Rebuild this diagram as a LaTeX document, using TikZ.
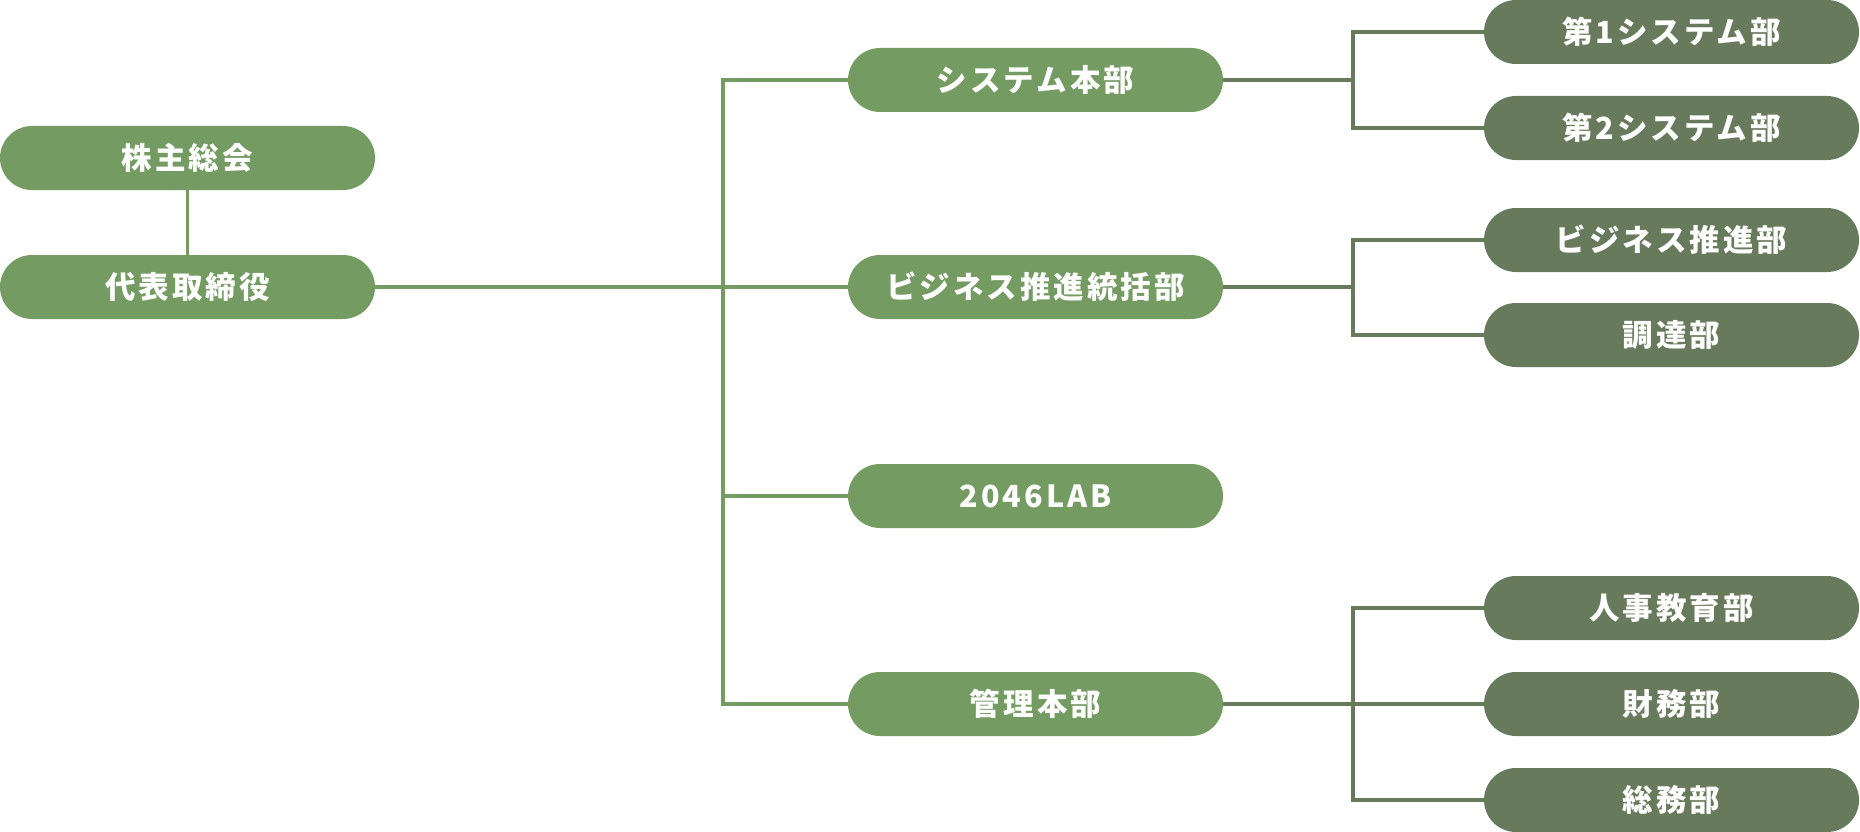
\documentclass[tikz,border=0pt]{standalone}
\usepackage{fontspec}
\setmainfont{Noto Sans CJK JP}[LetterSpace=10]
\definecolor{lightg}{RGB}{115,155,98}
\definecolor{darkg}{RGB}{104,122,92}
\begin{document}
\begin{tikzpicture}[x=1pt,y=-1pt,
  box/.style={rectangle, rounded corners=32pt, minimum width=375pt, minimum height=64pt,
    inner sep=0pt, text=white, font=\fontsize{30.5pt}{34pt}\selectfont\bfseries},
  lbox/.style={box, fill=lightg},
  dbox/.style={box, fill=darkg},
  lline/.style={draw=lightg, line width=3.5pt},
  dline/.style={draw=darkg, line width=3.5pt}]
\useasboundingbox (0,0) rectangle (1860,832);
% level 1
\node[lbox] (kabu) at (187.5,158) {株主総会};
\node[lbox] (ceo) at (187.5,287) {代表取締役};
% level 2
\node[lbox] (sys) at (1035.5,80) {システム本部};
\node[lbox] (biz) at (1035.5,287) {ビジネス推進統括部};
\node[lbox] (lab) at (1035.5,496) {2046LAB};
\node[lbox] (kanri) at (1035.5,704) {管理本部};
% level 3
\node[dbox] (s1) at (1671.5,32) {第1システム部};
\node[dbox] (s2) at (1671.5,128) {第2システム部};
\node[dbox] (b1) at (1671.5,240) {ビジネス推進部};
\node[dbox] (b2) at (1671.5,335) {調達部};
\node[dbox] (k1) at (1671.5,608) {人事教育部};
\node[dbox] (k2) at (1671.5,704) {財務部};
\node[dbox] (k3) at (1671.5,800) {総務部};
% junction columns
\coordinate (t) at (723,0);
\coordinate (j) at (1353,0);
% left connectors
\path[lline] (kabu.south) -- (ceo.north);
\path[lline] (ceo.east) -- (ceo.east -| t);
\path[lline] (sys.west) -- (sys.west -| t) -- (kanri.west -| t) -- (kanri.west);
\path[lline] (biz.west -| t) -- (biz.west);
\path[lline] (lab.west -| t) -- (lab.west);
% right connectors
\path[dline] (sys.east) -- (sys.east -| j);
\path[dline] (s1.west) -- (s1.west -| j) -- (s2.west -| j) -- (s2.west);
\path[dline] (biz.east) -- (biz.east -| j);
\path[dline] (b1.west) -- (b1.west -| j) -- (b2.west -| j) -- (b2.west);
\path[dline] (kanri.east) -- (k2.west);
\path[dline] (k1.west) -- (k1.west -| j) -- (k3.west -| j) -- (k3.west);
\end{tikzpicture}
\end{document}
